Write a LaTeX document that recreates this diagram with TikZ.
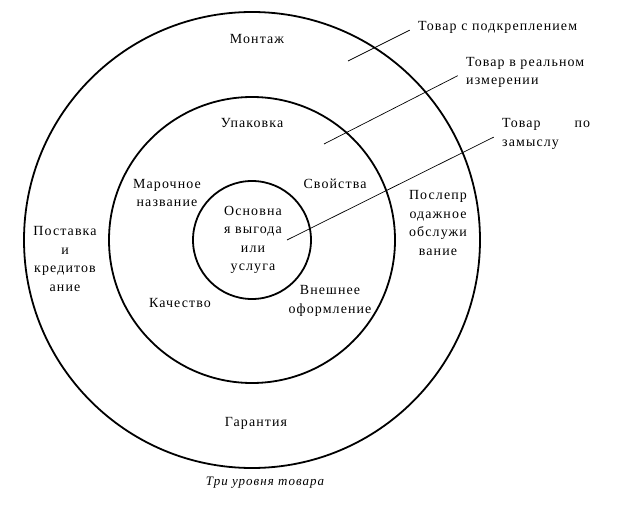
\documentclass[tikz,border=0pt]{standalone}
\usepackage{fontspec}
\setmainfont[LetterSpace=8]{Liberation Serif}
\usepackage{tikz}
\tikzset{
  lab/.style={font=\fontsize{14}{18.5}\selectfont, align=center, inner sep=2bp},
  side/.style={font=\fontsize{14}{18.5}\selectfont, anchor=west, align=left, inner sep=2bp},
  captext/.style={font=\fontsize{13}{16}\selectfont\itshape, inner sep=1bp},
  ring/.style={line width=1.8bp, draw=black},
  lead/.style={line width=0.7bp, draw=black, shorten >=7bp}
}

\begin{document}
\begin{tikzpicture}[x=1bp, y=-1bp]
    \useasboundingbox (0,0) rectangle (625,505);
    \coordinate (c) at (252,240);

    % Rings
    \draw[ring] (c) circle[radius=228bp];
    \draw[ring] (c) circle[radius=143bp];
    \draw[ring] (c) circle[radius=59bp];

    % Outer ring
    \node[lab] (mont) at (257,39) {Монтаж};
    \node[lab] (post) at (65,259) {Поставка\\и\\кредитов\\ание};
    \node[lab] (serv) at (438,223) {Послепр\\одажное\\обслужи\\вание};
    \node[lab] (gar) at (256,423) {Гарантия};

    % Middle ring
    \node[lab] (upak) at (252,123) {Упаковка};
    \node[lab] (brand) at (167,193) {Марочное\\название};
    \node[lab] (prop) at (335,184) {Свойства};
    \node[lab] (qual) at (180,303) {Качество};
    \node[lab] (look) at (330,301) {Внешнее\\оформление};

    % Core
    \node[lab] (core) at (253,240) {Основна\\я выгода\\или\\услуга};

    % Levels
    \node[side] (lvlA) at (416,27) {Товар с подкреплением};
    \node[side] (lvlB) at (464,72.5) {Товар в реальном\\измерении};
    \node[side, text width=88bp] (lvlC) at (500,134) {Товар\hfill по\\замыслу};
    \coordinate (pA) at (348,61);
    \coordinate (pB) at (324,144);
    \coordinate (pC) at (287,240);
    \draw[lead] (pA) -- (lvlA.west);
    \draw[lead] (pB) -- (lvlB.west);
    \draw[lead] (pC) -- (lvlC.west);

    \node[captext] (title) at (265,483) {Три уровня товара};
\end{tikzpicture}
\end{document}
